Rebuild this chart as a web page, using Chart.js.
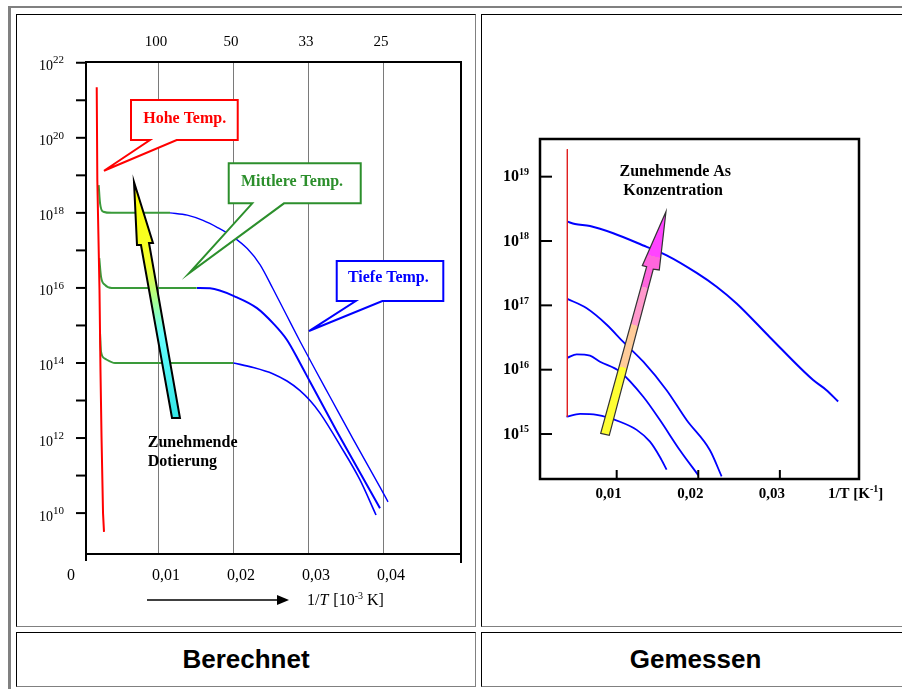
<!DOCTYPE html>
<html>
<head>
<meta charset="utf-8">
<script src="https://cdn.jsdelivr.net/npm/chart.js@4.4.1/dist/chart.umd.min.js"></script>
<style>
  html, body { margin: 0; padding: 0; overflow: hidden; background: #fff; width: 902px; height: 689px; }
  .cell { position: absolute; box-sizing: border-box; border: 1px solid; border-color: #000 #808080 #808080 #000; }
  .caption { font: bold 26px "Liberation Sans", Arial, sans-serif; color: #000;
             display: flex; align-items: center; justify-content: center; }
  canvas { position: absolute; }
</style>
</head>
<body>
<div style="position:absolute;left:8px;top:6px;width:1000px;height:2px;background:#808080"></div>
<div style="position:absolute;left:8px;top:6px;width:3px;height:700px;background:#808080"></div>
<div class="cell" style="left:16px;top:14px;width:460px;height:613px"></div>
<div class="cell" style="left:481px;top:14px;width:429px;height:613px"></div>
<div class="cell caption" style="left:16px;top:632px;width:460px;height:55px">Berechnet</div>
<div class="cell caption" style="left:481px;top:632px;width:429px;height:55px">Gemessen</div>
<canvas id="calc" width="458" height="611" style="left:17px;top:15px"></canvas>
<canvas id="meas" width="426" height="611" style="left:482px;top:15px"></canvas>

<script>
// ---- Berechnet (left): x = 1/T, y = carrier density ----
const hoheX = [0.00183, 0.00191, 0.0022, 0.00233, 0.00247, 0.00267, 0.0028];
const hoheN = [2.24e21, 7.41e18, 8.71e15, 6.46e13, 1.07e12, 1.0e10, 3.16e9];

const mittel1X = [0.00209, 0.00227, 0.00271, 0.00383, 0.0116];
const mittel1N = [5.5e18, 1.82e18, 1.07e18, 1.0e18, 1.0e18];
const mittel2X = [0.00217, 0.0024, 0.00293, 0.00383, 0.01516];
const mittel2N = [6.2e16, 2.0e16, 1.2e16, 1.0e16, 1.0e16];
const mittel3X = [0.00227, 0.0024, 0.00293, 0.00427, 0.02004];
const mittel3N = [6.2e14, 2.0e14, 1.3e14, 1.0e14, 1.0e14];

const tiefe1X = [0.0116, 0.0139, 0.016, 0.018, 0.02, 0.0219, 0.0236, 0.02533, 0.0272, 0.02893, 0.03093, 0.03293, 0.036, 0.0396, 0.04067];
const tiefe1N = [1.0e18, 8.7e17, 6.3e17, 4.0e17, 2.3e17, 1.12e17, 4.2e16, 9.5e15, 1.78e15, 3.8e14, 6.8e13, 1.26e13, 9.5e11, 4.9e10, 2.0e10];
const tiefe2X = [0.0152, 0.01693, 0.02053, 0.0232, 0.02533, 0.0272, 0.02893, 0.03027, 0.03387, 0.0396];
const tiefe2N = [1.0e16, 9.8e15, 5.6e15, 2.9e15, 1.15e15, 4.1e14, 1.0e14, 3.16e13, 1.48e12, 1.35e10];
const tiefe3X = [0.02004, 0.0227, 0.0253, 0.0272, 0.0289, 0.0303, 0.0316, 0.0343, 0.0369, 0.03907];
const tiefe3N = [1.0e14, 7.6e13, 5.2e13, 3.3e13, 1.86e13, 9.8e12, 4.6e12, 6.3e11, 7.9e10, 8.9e9];

const calcGridX = [0.01, 0.02, 0.03, 0.04];
const calcTopLabels = ['100', '50', '33', '25'];
const calcBottomLabels = ['0,01', '0,02', '0,03', '0,04'];
const calcTickExp = [10, 11, 12, 13, 14, 15, 16, 17, 18, 19, 20, 21, 22];
const calcLabelExp = [10, 12, 14, 16, 18, 20, 22];

// ---- Gemessen (right) ----
const randX = [0.00395, 0.00395];
const randN = [2.67e19, 1.86e15];
const as1X = [0.00395, 0.00489, 0.00673, 0.00958, 0.01367, 0.01612, 0.0198, 0.02225, 0.0247, 0.02877, 0.03408, 0.03572, 0.03714];
const as1N = [2.0e18, 1.84e18, 1.71e18, 1.32e18, 8.1e17, 6.0e17, 3.2e17, 1.95e17, 1.07e17, 3.2e16, 6.9e15, 4.8e15, 3.2e15];
const as2X = [0.00395, 0.00633, 0.00878, 0.01081, 0.01326, 0.01612, 0.01857, 0.02143, 0.02286];
const as2N = [1.26e17, 9.0e16, 5.0e16, 2.7e16, 1.33e16, 4.8e15, 1.65e15, 5.6e14, 2.2e14];
const as3X = [0.00395, 0.0051, 0.00673, 0.00795, 0.0104, 0.01326, 0.0153, 0.01775, 0.01999];
const as3N = [1.53e16, 1.73e16, 1.65e16, 1.33e16, 9.3e15, 3.8e15, 1.65e15, 5.6e14, 2.3e14];
const as4X = [0.00385, 0.00551, 0.00755, 0.0104, 0.01245, 0.01408, 0.0153, 0.01612];
const as4N = [1.86e15, 2.05e15, 1.98e15, 1.55e15, 1.16e15, 7.6e14, 4.4e14, 2.8e14];

const measTickX = [0.01, 0.02, 0.03];
const measTickLabels = ['0,01', '0,02', '0,03'];
const measTickExp = [15, 16, 17, 18, 19];

const SERIF = '"Liberation Serif", "Times New Roman", serif';

function pairs(xs, ys) {
  return xs.map((x, i) => ({ x: x, y: ys[i] }));
}

function line(color, width, xs, ys, smooth) {
  return {
    data: pairs(xs, ys),
    borderColor: color,
    borderWidth: width,
    pointRadius: 0,
    fill: false,
    tension: 0,
    cubicInterpolationMode: smooth ? 'monotone' : 'default'
  };
}

// data coords -> pixels (y given as exponent of 10)
function P(chart, x, e) {
  return [chart.scales.x.getPixelForValue(x), chart.scales.y.getPixelForValue(Math.pow(10, e))];
}

function seg(ctx, x1, y1, x2, y2) {
  ctx.beginPath();
  ctx.moveTo(x1, y1);
  ctx.lineTo(x2, y2);
  ctx.stroke();
}

function power(ctx, x, y, base, exp, baseFont, expFont, rise) {
  ctx.textAlign = 'left';
  ctx.textBaseline = 'alphabetic';
  ctx.font = baseFont;
  ctx.fillText(base, x, y);
  const w = ctx.measureText(base).width;
  ctx.font = expFont;
  ctx.fillText(exp, x + w, y - rise);
  return x + w + ctx.measureText(exp).width;
}

function callout(chart, c) {
  const ctx = chart.ctx;
  const [x1, y1] = P(chart, c.box[0], c.box[1]);
  const [x2, y2] = P(chart, c.box[2], c.box[3]);
  const b1 = P(chart, c.base[0], c.box[3])[0];
  const b2 = P(chart, c.base[1], c.box[3])[0];
  const [tx, ty] = P(chart, c.tip[0], c.tip[1]);
  ctx.save();
  ctx.beginPath();
  ctx.moveTo(x1, y1);
  ctx.lineTo(x2, y1);
  ctx.lineTo(x2, y2);
  ctx.lineTo(b2, y2);
  ctx.lineTo(tx, ty);
  ctx.lineTo(b1, y2);
  ctx.lineTo(x1, y2);
  ctx.closePath();
  ctx.fillStyle = '#fff';
  ctx.fill();
  ctx.strokeStyle = c.color;
  ctx.lineWidth = 2;
  ctx.lineJoin = 'miter';
  ctx.stroke();
  const [lx, ly] = P(chart, c.text[0], c.text[1]);
  ctx.fillStyle = c.color;
  ctx.font = 'bold 16px ' + SERIF;
  ctx.textAlign = 'center';
  ctx.textBaseline = 'alphabetic';
  ctx.fillText(c.label, lx, ly);
  ctx.restore();
}

function arrowShape(chart, pts, from, to, stops, outline, lw) {
  const ctx = chart.ctx;
  const px = pts.map(p => P(chart, p[0], p[1]));
  const g1 = P(chart, from[0], from[1]);
  const g2 = P(chart, to[0], to[1]);
  const grad = ctx.createLinearGradient(g1[0], g1[1], g2[0], g2[1]);
  stops.forEach(s => grad.addColorStop(s[0], s[1]));
  ctx.save();
  ctx.beginPath();
  px.forEach((p, i) => i ? ctx.lineTo(p[0], p[1]) : ctx.moveTo(p[0], p[1]));
  ctx.closePath();
  ctx.fillStyle = grad;
  ctx.fill();
  ctx.strokeStyle = outline;
  ctx.lineWidth = lw;
  ctx.lineJoin = 'miter';
  ctx.stroke();
  ctx.restore();
}

const calcDecor = {
  id: 'calcDecor',
  beforeDatasetsDraw(chart) {
    const { ctx, chartArea: a, scales: { x } } = chart;
    ctx.save();
    ctx.strokeStyle = '#7a7a7a';
    ctx.lineWidth = 1;
    calcGridX.forEach(v => {
      const px = Math.round(x.getPixelForValue(v)) + 0.5;
      seg(ctx, px, a.top, px, a.bottom);
    });
    ctx.restore();
  },
  afterDatasetsDraw(chart) {
    const { ctx, chartArea: a, scales: { x, y } } = chart;
    ctx.save();
    // frame and axes
    ctx.strokeStyle = '#000';
    ctx.lineWidth = 2;
    seg(ctx, a.left, a.top - 1, a.left, a.bottom + 7);
    seg(ctx, a.left - 1, a.top, a.right + 1, a.top);
    seg(ctx, a.right, a.top - 1, a.right, a.bottom + 9);
    seg(ctx, a.left - 1, a.bottom, a.right + 1, a.bottom);
    calcTickExp.forEach(e => {
      const py = y.getPixelForValue(Math.pow(10, e));
      seg(ctx, a.left - 10, py, a.left, py);
    });
    // tick labels
    ctx.fillStyle = '#000';
    calcLabelExp.forEach(e => {
      const py = y.getPixelForValue(Math.pow(10, e));
      power(ctx, a.left - 47, py + 7.5, '10', String(e), '14px ' + SERIF, '11px ' + SERIF, 6.8);
    });
    ctx.textAlign = 'center';
    ctx.textBaseline = 'alphabetic';
    ctx.font = '15px ' + SERIF;
    calcGridX.forEach((v, i) => {
      ctx.fillText(calcTopLabels[i], x.getPixelForValue(v) - 2, a.top - 16);
    });
    ctx.font = '16px ' + SERIF;
    calcGridX.forEach((v, i) => {
      ctx.fillText(calcBottomLabels[i], x.getPixelForValue(v) + 8, a.bottom + 26);
    });
    ctx.fillText('0', x.getPixelForValue(0) - 12, a.bottom + 26);
    // axis title with arrow
    const ax1 = x.getPixelForValue(0.00853), ax2 = x.getPixelForValue(0.02747), ay = a.bottom + 46;
    ctx.lineWidth = 1.5;
    seg(ctx, ax1, ay, ax2 - 10, ay);
    ctx.beginPath();
    ctx.moveTo(ax2, ay);
    ctx.lineTo(ax2 - 12, ay - 5);
    ctx.lineTo(ax2 - 12, ay + 5);
    ctx.closePath();
    ctx.fill();
    let tx = x.getPixelForValue(0.02987);
    const ty = a.bottom + 51;
    ctx.textAlign = 'left';
    ctx.font = '16px ' + SERIF;
    ctx.fillText('1/', tx, ty);
    tx += ctx.measureText('1/').width;
    ctx.font = 'italic 16px ' + SERIF;
    ctx.fillText('T', tx, ty);
    tx += ctx.measureText('T').width + 5;
    tx = power(ctx, tx, ty, '[10', '-3', '16px ' + SERIF, '10px ' + SERIF, 6);
    ctx.font = '16px ' + SERIF;
    ctx.fillText(' K]', tx, ty);
    ctx.restore();

    // callouts
    callout(chart, { box: [0.0064, 21.006, 0.02063, 19.94], base: [0.00893, 0.01249], tip: [0.0028, 19.122],
                     text: [0.01356, 20.401], label: 'Hohe Temp.', color: '#ff0000' });
    callout(chart, { box: [0.01943, 19.32, 0.03703, 18.254], base: [0.02257, 0.0268], tip: [0.01413, 16.39],
                     text: [0.02787, 18.723], label: 'Mittlere Temp.', color: '#2c8f2c' });
    callout(chart, { box: [0.03383, 16.716, 0.04804, 15.65], base: [0.03636, 0.03991], tip: [0.03013, 14.851],
                     text: [0.04071, 16.149], label: 'Tiefe Temp.', color: '#0000ff' });

    // doping arrow
    arrowShape(chart,
      [[0.0068, 18.821], [0.00933, 17.196], [0.0088, 17.196], [0.01293, 12.533],
       [0.01187, 12.533], [0.00773, 17.143], [0.0072, 17.143]],
      [0.0068, 18.821], [0.0124, 12.533],
      [[0, '#ffff00'], [0.35, '#f4ff30'], [0.5, '#a8ff90'], [0.64, '#66ffff'], [1, '#33e6e6']],
      '#000', 2);
    ctx.save();
    ctx.fillStyle = '#000';
    ctx.font = 'bold 16px ' + SERIF;
    ctx.textAlign = 'left';
    let p = P(chart, 0.00863, 11.768);
    ctx.fillText('Zunehmende', p[0], p[1]);
    p = P(chart, 0.00863, 11.262);
    ctx.fillText('Dotierung', p[0], p[1]);
    ctx.restore();
  }
};

const measDecor = {
  id: 'measDecor',
  afterDatasetsDraw(chart) {
    const { ctx, chartArea: a, scales: { x, y } } = chart;
    ctx.save();
    ctx.strokeStyle = '#000';
    ctx.lineWidth = 2.5;
    ctx.strokeRect(a.left, a.top, a.right - a.left, a.bottom - a.top);
    ctx.lineWidth = 2;
    measTickExp.forEach(e => {
      const py = y.getPixelForValue(Math.pow(10, e));
      seg(ctx, a.left, py, a.left + 12, py);
      power(ctx, a.left - 37, py + 4.5, '10', String(e), 'bold 16px ' + SERIF, 'bold 10px ' + SERIF, 6.2);
    });
    measTickX.forEach((v, i) => {
      const px = x.getPixelForValue(v);
      seg(ctx, px, a.bottom, px, a.bottom - 9);
      ctx.font = 'bold 15px ' + SERIF;
      ctx.textAlign = 'center';
      ctx.fillText(measTickLabels[i], px - 8, a.bottom + 19);
    });
    let tx = x.getPixelForValue(0.03589);
    const ty = a.bottom + 19;
    tx = power(ctx, tx, ty, '1/T [K', '-1', 'bold 15px ' + SERIF, 'bold 10px ' + SERIF, 6);
    ctx.font = 'bold 15px ' + SERIF;
    ctx.fillText(']', tx, ty);
    ctx.restore();

    arrowShape(chart,
      [[0.00804, 15.011], [0.00909, 14.98], [0.01448, 17.561], [0.01522, 17.55],
       [0.01604, 18.456], [0.01314, 17.617], [0.01367, 17.601]],
      [0.00856, 15.0], [0.01604, 18.456],
      [[0, '#ffff33'], [0.3, '#ffff33'], [0.3, '#ffcc99'], [0.49, '#ffcc99'], [0.49, '#ff99cc'],
       [0.66, '#ff99cc'], [0.66, '#ff66dd'], [0.8, '#ff66dd'], [0.8, '#ff44ff'], [1, '#ff44ff']],
      '#333', 1.2);

    ctx.save();
    ctx.fillStyle = '#000';
    ctx.font = 'bold 16px ' + SERIF;
    ctx.textAlign = 'center';
    let p = P(chart, 0.01718, 19.011);
    ctx.fillText('Zunehmende As', p[0], p[1]);
    p = P(chart, 0.01692, 18.711);
    ctx.fillText('Konzentration', p[0], p[1]);
    ctx.restore();
  }
};

const common = {
  responsive: false,
  animation: false,
  devicePixelRatio: 1,
  plugins: { legend: { display: false }, tooltip: { enabled: false } }
};

new Chart(document.getElementById('calc'), {
  type: 'line',
  data: {
    datasets: [
      line('#ff0000', 2, hoheX, hoheN, false),
      line('#3a9a3a', 2, mittel1X, mittel1N, true),
      line('#3a9a3a', 2, mittel2X, mittel2N, true),
      line('#3a9a3a', 2, mittel3X, mittel3N, true),
      line('#0000ff', 1.4, tiefe1X, tiefe1N, true),
      line('#0000ff', 2, tiefe2X, tiefe2N, true),
      line('#0000ff', 1.6, tiefe3X, tiefe3N, true)
    ]
  },
  options: Object.assign({}, common, {
    layout: { padding: { left: 69, top: 47, right: 14, bottom: 72 } },
    scales: {
      x: { type: 'linear', min: 0.0004, max: 0.0504, display: false },
      y: { type: 'logarithmic', min: 8.13e8, max: 1.047e22, display: false }
    }
  }),
  plugins: [calcDecor]
});

new Chart(document.getElementById('meas'), {
  type: 'line',
  data: {
    datasets: [
      line('#e02020', 1, randX, randN, false),
      line('#0000ff', 2, as1X, as1N, true),
      line('#0000ff', 1.8, as2X, as2N, true),
      line('#0000ff', 1.8, as3X, as3N, true),
      line('#0000ff', 1.8, as4X, as4N, true)
    ]
  },
  options: Object.assign({}, common, {
    layout: { padding: { left: 58, top: 124, right: 49, bottom: 147 } },
    scales: {
      x: { type: 'linear', min: 0.0006, max: 0.0397, display: false },
      y: { type: 'logarithmic', min: 2.0e14, max: 3.85e19, display: false }
    }
  }),
  plugins: [measDecor]
});
</script>
</body>
</html>
